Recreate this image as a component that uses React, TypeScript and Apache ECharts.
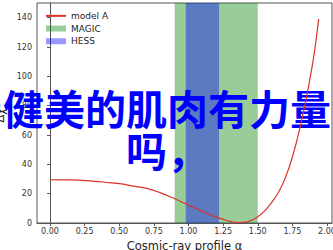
import React, { useEffect, useRef } from "react";
import * as echarts from "echarts";

// Cosmic-ray profile alpha (x) and Delta chi^2 (y) of model A
const alpha = [0, 0.1, 0.2, 0.3, 0.4, 0.5, 0.6, 0.7, 0.8, 0.9, 1.0, 1.1, 1.2, 1.25, 1.3, 1.35, 1.4, 1.45, 1.5, 1.55, 1.6, 1.65, 1.7, 1.75, 1.8, 1.85, 1.9, 1.94];
const deltaChi2 = [29.5, 29.4, 29.2, 28.6, 27.8, 26.8, 25.2, 23.6, 20.5, 16.5, 12.2, 7.9, 4.0, 2.5, 1.1, 0.3, 0.4, 1.6, 4.3, 8.3, 14, 21, 31, 45, 63, 85, 111, 139];

// Allowed alpha ranges
const magicBand = [0.9, 1.5];
const hessBand = [0.98, 1.22];

const seriesNames = ["model A", "MAGIC", "HESS"];
const xTicks = [0, 0.25, 0.5, 0.75, 1.0, 1.25, 1.5, 1.75, 2.0];
const yTickStep = 20;
const xName = "Cosmic-ray profile α";
const yName = "Δχ²";
const overlayText = "健美的肌肉有力量吗，";

const GREEN = "rgba(0,128,0,0.4)";
const BLUE = "rgba(0,0,255,0.4)";
const RED = "#d9342b";
const AXIS = "#555";
const FONT = "DejaVu Sans";

export default function App() {
  const ref = useRef<HTMLDivElement>(null);
  useEffect(() => {
    if (!ref.current) return;
    const chart = echarts.init(ref.current, null, { renderer: "svg" });
    const option = {
      animation: false,
      grid: {
        left: 37, right: 1, top: 3, bottom: 27,
        containLabel: false, outerBoundsMode: "none",
        show: true, borderColor: AXIS, borderWidth: 1, backgroundColor: "transparent",
      },
      xAxis: {
        type: "value", min: -0.094, max: 2.036,
        name: xName, nameLocation: "middle", nameGap: 13,
        nameTextStyle: { fontSize: 11.5, color: "#222", fontFamily: FONT },
        axisLine: { show: true, lineStyle: { color: AXIS, width: 1 } },
        axisTick: { show: true, inside: false, length: 3, lineStyle: { color: AXIS }, customValues: xTicks },
        axisLabel: { customValues: xTicks, formatter: (v: number) => v.toFixed(2), fontSize: 8, color: "#333", margin: 4, fontFamily: FONT, hideOverlap: false },
        splitLine: { show: false },
      },
      yAxis: {
        type: "value", min: 0, max: 150, interval: yTickStep,
        name: yName, nameLocation: "middle", nameGap: 22,
        nameTextStyle: { fontSize: 11.5, color: "#222", fontFamily: FONT },
        axisLine: { show: true, lineStyle: { color: AXIS, width: 1 } },
        axisTick: { show: true, inside: false, length: 3, lineStyle: { color: AXIS } },
        axisLabel: { fontSize: 8, color: "#333", margin: 5, fontFamily: FONT, showMaxLabel: false, hideOverlap: false },
        splitLine: { show: false },
      },
      legend: {
        left: 45, top: 9.5, orient: "vertical", padding: 0, itemGap: 0,
        itemWidth: 20, itemHeight: 6,
        textStyle: { fontSize: 9, color: "#222", lineHeight: 12.7, fontFamily: FONT },
        data: [
          { name: seriesNames[0], itemStyle: { opacity: 0 } },
          { name: seriesNames[1], icon: "rect", itemStyle: { color: GREEN, borderWidth: 0 } },
          { name: seriesNames[2], icon: "rect", itemStyle: { color: BLUE, borderWidth: 0 } },
        ],
      },
      series: [
        {
          type: "line", name: seriesNames[1], data: [], z: 1,
          itemStyle: { color: GREEN }, lineStyle: { color: GREEN },
          markArea: { silent: true, itemStyle: { color: GREEN }, data: [[{ xAxis: magicBand[0] }, { xAxis: magicBand[1] }]] },
        },
        {
          type: "line", name: seriesNames[2], data: [], z: 1,
          itemStyle: { color: BLUE }, lineStyle: { color: BLUE },
          markArea: { silent: true, itemStyle: { color: BLUE }, data: [[{ xAxis: hessBand[0] }, { xAxis: hessBand[1] }]] },
        },
        {
          type: "line", name: seriesNames[0], z: 10,
          data: alpha.map((a, i) => [a, deltaChi2[i]]),
          smooth: 0.4, symbol: "none", showSymbol: false,
          itemStyle: { color: RED }, lineStyle: { color: RED, width: 1.2 },
        },
      ],
      graphic: [
        {
          type: "text", x: 167, y: 86, z: 5,
          style: {
            text: overlayText, width: 333, overflow: "break",
            align: "center", verticalAlign: "top",
            fill: "#0000ff", fontSize: 41, lineHeight: 42, fontWeight: "bold",
            fontFamily: "Noto Sans CJK SC",
          },
        },
      ],
    };
    chart.setOption(option as any);
    return () => chart.dispose();
  }, []);
  return (
    <div
      ref={ref}
      style={{ position: "fixed", left: 0, top: 0, width: 333, height: 250, background: "#fff" }}
    />
  );
}
